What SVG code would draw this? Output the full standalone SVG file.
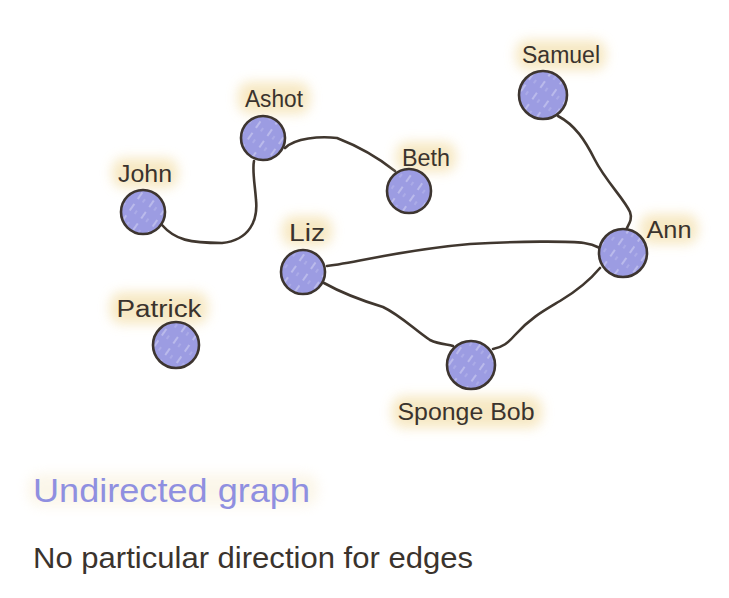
<svg xmlns="http://www.w3.org/2000/svg" width="729" height="598" viewBox="0 0 729 598">
  <defs>
    <filter id="glow" x="-40%" y="-60%" width="180%" height="220%">
      <feGaussianBlur stdDeviation="6"/>
    </filter>
    <pattern id="hatch" width="14" height="14" patternUnits="userSpaceOnUse" patternTransform="rotate(-55)">
      <rect width="14" height="14" fill="#9c9ce2"/>
      <line x1="0" y1="3" x2="14" y2="3" stroke="#ffffff" stroke-width="0.8" stroke-dasharray="8 6" opacity="0.75"/>
      <line x1="0" y1="9" x2="14" y2="9" stroke="#eeeeff" stroke-width="0.6" stroke-dasharray="4 10" opacity="0.6"/>
    </pattern>
  </defs>
  <style>
    .node { fill: url(#hatch); stroke: #3d3530; stroke-width: 2.6; }
    .edge { fill: none; stroke: #40372f; stroke-width: 2.6; stroke-linecap: round; }
    .lbl { font-family: "Liberation Sans", "DejaVu Sans", sans-serif; font-size: 23px; fill: #3a332d; text-anchor: middle; }
    .bg { fill: #f6e6bd; filter: url(#glow); opacity: 0.9; }
    .title { font-family: "Liberation Sans", "DejaVu Sans", sans-serif; font-size: 33px; fill: #8f8fe0; }
    .sub { font-family: "Liberation Sans", "DejaVu Sans", sans-serif; font-size: 29px; fill: #3a332d; }
  </style>
  <rect width="729" height="598" fill="#ffffff"/>

  <g id="connectors">
    <path class="edge" d="M162,225 C175,240 190,243 222,243 C250,240 258,220 256,200 C255,185 252,170 254,161"/>
    <path class="edge" d="M285,148 C295,138 320,136 337,138 C355,145 375,155 395,171"/>
    <path class="edge" d="M558,116 C575,125 585,140 595,160 C605,180 625,200 630,212 C633,220 628,225 626,230"/>
    <path class="edge" d="M327,266 C360,262 400,250 470,244 C520,241 570,241 584,243 C592,244 596,246 600,248"/>
    <path class="edge" d="M324,283 C340,292 360,300 383,307 C400,315 415,330 430,340 C440,345 448,344 453,346"/>
    <path class="edge" d="M493,349 C503,347 508,343 515,335 C530,318 545,310 560,301 C575,292 590,280 600,268"/>
  </g>

  <g id="node-john">
    <rect class="bg" x="112" y="158" width="66" height="30" rx="12"/>
    <circle class="node" cx="143" cy="212" r="22"/>
    <text class="lbl" x="145" y="182" textLength="54" lengthAdjust="spacingAndGlyphs">John</text>
  </g>
  <g id="node-ashot">
    <rect class="bg" x="238" y="82" width="72" height="32" rx="12"/>
    <circle class="node" cx="263" cy="138" r="22"/>
    <text class="lbl" x="274" y="107" textLength="58" lengthAdjust="spacingAndGlyphs">Ashot</text>
  </g>
  <g id="node-beth">
    <rect class="bg" x="396" y="142" width="60" height="30" rx="12"/>
    <circle class="node" cx="409" cy="191" r="22"/>
    <text class="lbl" x="426" y="166" textLength="48" lengthAdjust="spacingAndGlyphs">Beth</text>
  </g>
  <g id="node-samuel">
    <rect class="bg" x="516" y="40" width="90" height="30" rx="12"/>
    <circle class="node" cx="543" cy="95" r="24"/>
    <text class="lbl" x="561" y="63" textLength="78" lengthAdjust="spacingAndGlyphs">Samuel</text>
  </g>
  <g id="node-liz">
    <rect class="bg" x="282" y="216" width="50" height="30" rx="12"/>
    <circle class="node" cx="303" cy="272" r="22"/>
    <text class="lbl" x="307" y="241" textLength="36" lengthAdjust="spacingAndGlyphs">Liz</text>
  </g>
  <g id="node-ann">
    <rect class="bg" x="640" y="214" width="58" height="30" rx="12"/>
    <circle class="node" cx="623" cy="253" r="24"/>
    <text class="lbl" x="669" y="238" textLength="45" lengthAdjust="spacingAndGlyphs">Ann</text>
  </g>
  <g id="node-spongebob">
    <rect class="bg" x="392" y="396" width="150" height="32" rx="12"/>
    <circle class="node" cx="471" cy="365" r="24"/>
    <text class="lbl" x="466" y="420" textLength="137" lengthAdjust="spacingAndGlyphs">Sponge Bob</text>
  </g>
  <g id="node-patrick">
    <rect class="bg" x="110" y="292" width="98" height="32" rx="12"/>
    <circle class="node" cx="176" cy="345" r="23"/>
    <text class="lbl" x="159" y="317" textLength="85" lengthAdjust="spacingAndGlyphs">Patrick</text>
  </g>

  <g id="caption">
    <rect x="28" y="474" width="290" height="32" rx="12" fill="#f7ecd0" filter="url(#glow)" opacity="0.45"/>
    <text class="title" x="33" y="502" textLength="277" lengthAdjust="spacingAndGlyphs">Undirected graph</text>
    <text class="sub" x="33" y="568" textLength="440" lengthAdjust="spacingAndGlyphs">No particular direction for edges</text>
  </g>
</svg>
